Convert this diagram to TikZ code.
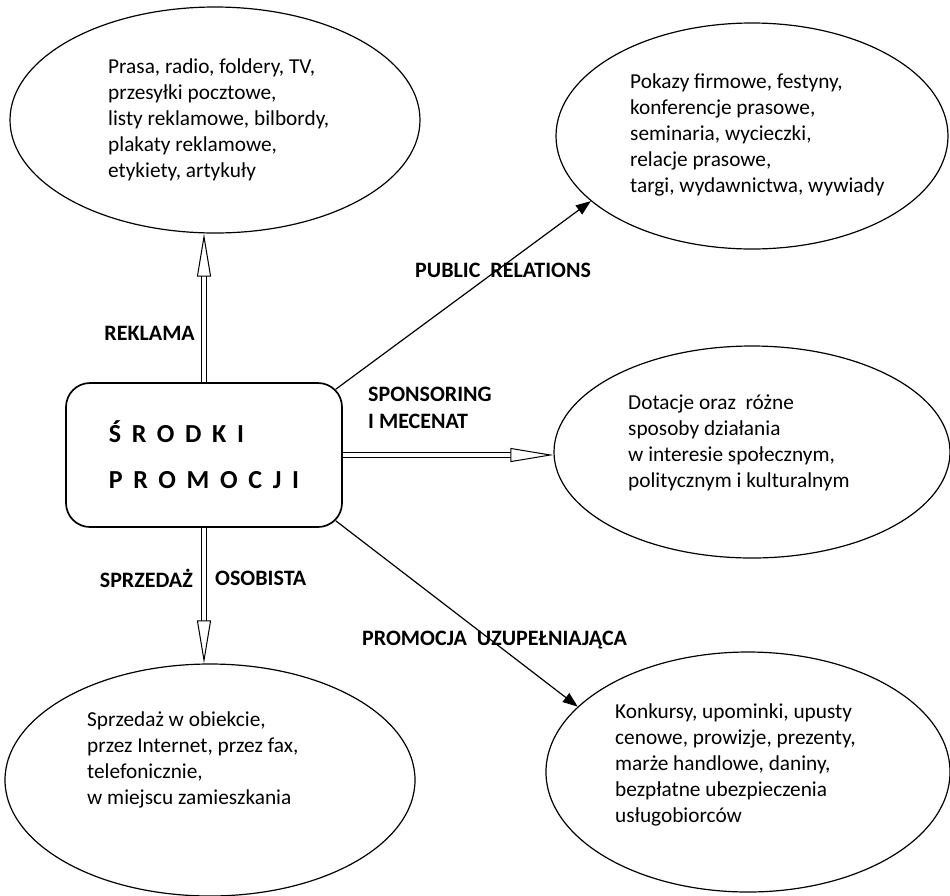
\documentclass[tikz,border=0pt]{standalone}
\usepackage{fontspec}
\setmainfont{Carlito}
\usetikzlibrary{shapes.geometric}
\usetikzlibrary{arrows.meta}
\tikzset{bubble/.style={draw, ellipse, line width=1.2pt, inner sep=0pt},
 mainbox/.style={draw, rounded corners=24pt, line width=1.7pt, align=left,
   font=\bfseries\fontsize{26}{46}\selectfont\addfontfeature{LetterSpace=41}},
 info/.style={anchor=west, align=left, inner sep=0pt, font=\fontsize{21.3}{26}\selectfont},
 tag/.style={align=left, inner sep=0pt, font=\bfseries\fontsize{22}{27}\selectfont},
 twin/.style={double, line width=1.1pt, double distance=3.4pt, shorten >=40pt},
 twinhead/.style={white, line width=1pt,
   -{Triangle[length=43pt, width=14pt, color=black, fill=white, line width=1pt]}},
 pointer/.style={line width=1.2pt, -{Triangle[length=15pt, width=11pt]}},
 }

\begin{document}
\begin{tikzpicture}[x=1pt, y=-1pt]
        \useasboundingbox (0, 0) rectangle (950, 895);

        \node[mainbox, minimum width=276, minimum height=144] (box) at (204, 455)
            {ŚRODKI\\PROMOCJI};

        \node[bubble, minimum width=410, minimum height=226] (tl) at (215, 120) {};
        \node[bubble, minimum width=392, minimum height=226] (tr) at (752, 136) {};
        \node[bubble, minimum width=396, minimum height=212] (mr) at (752, 452) {};
        \node[bubble, minimum width=410, minimum height=232] (bl) at (210, 780) {};
        \node[bubble, minimum width=404, minimum height=240] (br) at (748, 772) {};

        \node[info] (tltext) at (108, 120) {Prasa, radio, foldery, TV,\\przesyłki pocztowe,\\listy reklamowe, bilbordy,\\plakaty reklamowe,\\etykiety, artykuły};
        \node[info] (trtext) at (630, 135) {Pokazy firmowe, festyny,\\konferencje prasowe,\\seminaria, wycieczki,\\relacje prasowe,\\targi, wydawnictwa, wywiady};
        \node[info] (mrtext) at (628, 443) {Dotacje oraz~ różne\\sposoby działania\\w interesie społecznym,\\politycznym i kulturalnym};
        \node[info] (bltext) at (87, 760) {Sprzedaż w obiekcie,\\przez Internet, przez fax,\\telefonicznie,\\w miejscu zamieszkania};
        \node[info] (brtext) at (615, 765) {Konkursy, upominki, upusty\\cenowe, prowizje, prezenty,\\marże handlowe, daniny,\\bezpłatne ubezpieczenia\\usługobiorców};

        \draw[twin] (box.north) -- (box.north |- tl.south);
        \draw[twinhead] (box.north) -- (box.north |- tl.south);
        \draw[twin] (box.east) -- (box.east -| mr.west);
        \draw[twinhead] (box.east) -- (box.east -| mr.west);
        \draw[twin] (box.south) -- (box.south |- bl.north);
        \draw[twinhead] (box.south) -- (box.south |- bl.north);
        \draw[pointer] ([shift={(-7, 7)}]box.north east) -- (tr.202);
        \draw[pointer] ([shift={(-7, -7)}]box.south east) -- (br.159);

        \node[tag, anchor=east] (reklama) at (195, 333) {REKLAMA};
        \node[tag, anchor=west] (pr) at (415, 270) {PUBLIC~~RELATIONS};
        \node[tag, anchor=west] (sponsor) at (368, 408) {SPONSORING\\I MECENAT};
        \node[tag, anchor=east] (sprzedaz) at (193, 578) {SPRZEDAŻ};
        \node[tag, anchor=west] (osobista) at (215, 578) {OSOBISTA};
        \node[tag, anchor=west] (uzup) at (362, 640) {PROMOCJA~~UZUPEŁNIAJĄCA};
\end{tikzpicture}
\end{document}
